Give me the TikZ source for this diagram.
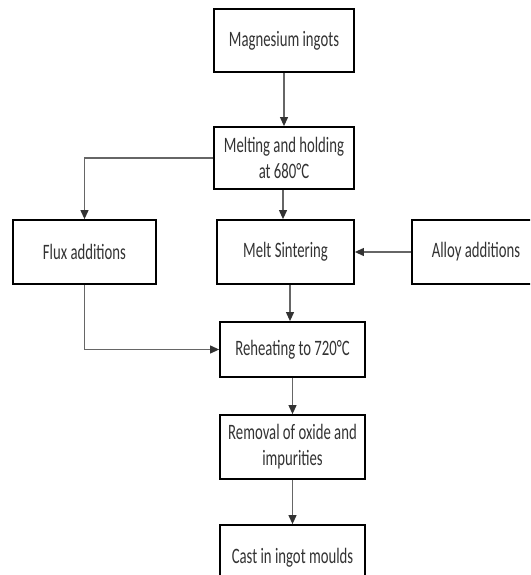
\documentclass[tikz,border=0pt]{standalone}
\usepackage{fontspec}
\setmainfont{Carlito}[FakeStretch=0.67]
\usetikzlibrary{arrows.meta}
\begin{document}
\begin{tikzpicture}[x=1pt,y=-1pt,
  box/.style={draw=black, line width=1.8pt, fill=white, align=center,
    font=\fontsize{22}{26}\selectfont, inner sep=0pt, text=black!80},
  conn/.style={draw=black!60, line width=1.1pt,
    -{Triangle[length=9pt,width=8pt,color=black!80]}}]
\clip (0,0) rectangle (530,575);
\useasboundingbox (0,0) rectangle (530,575);
\node[box, minimum width=140pt, minimum height=63pt] (mg) at (284,40.5) {Magnesium ingots};
\node[box, minimum width=140pt, minimum height=62pt] (melt) at (284,158) {Melting and holding\\at 680°C};
\node[box, minimum width=143pt, minimum height=64pt] (flux) at (84.5,252) {Flux additions};
\node[box, minimum width=137pt, minimum height=64pt] (sint) at (285.5,252) {Melt Sintering};
\node[box, minimum width=128pt, minimum height=64pt] (alloy) at (476,252) {Alloy additions};
\node[box, minimum width=145pt, minimum height=55pt] (reheat) at (292.5,349.5) {Reheating to 720°C};
\node[box, minimum width=145pt, minimum height=64pt] (removal) at (292.5,447) {Removal of oxide and\\impurities};
\node[box, minimum width=145pt, minimum height=65pt] (cast) at (292.5,557.5) {Cast in ingot moulds};
\draw[conn] (mg.south) -- (melt.north);
\draw[conn] (melt.west) -| (flux.north);
\draw[conn] ([xshift=-1pt]melt.south) -- ([xshift=-1pt]melt.south |- sint.north);
\draw[conn] (alloy.west) -- (sint.east);
\draw[conn] ([xshift=4.5pt]sint.south) -- ([xshift=4.5pt]sint.south |- reheat.north);
\draw[conn] (flux.south) |- (reheat.west);
\draw[conn] (reheat.south) -- (removal.north);
\draw[conn] (removal.south) -- (cast.north);
\end{tikzpicture}
\end{document}
